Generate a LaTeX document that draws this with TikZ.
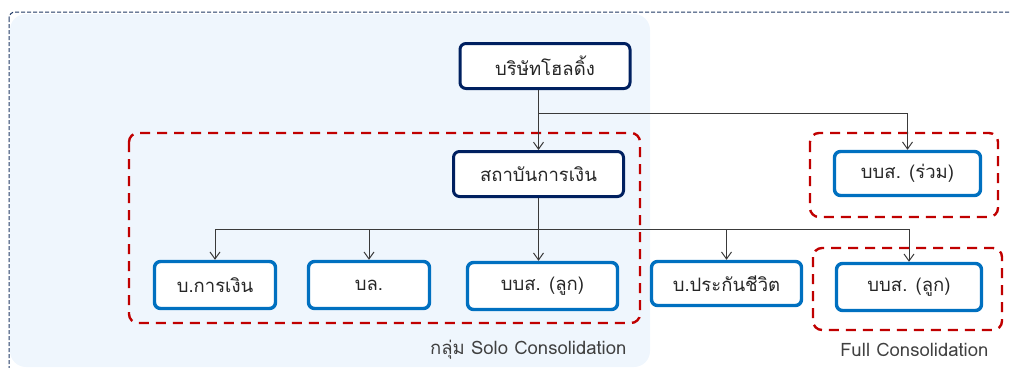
\documentclass[tikz,border=0pt]{standalone}
\usepackage{fontspec}
\newfontfamily\thaifont[Script=Thai]{Loma}
\usetikzlibrary{arrows.meta}

\definecolor{navy}{HTML}{002060}
\definecolor{midblue}{HTML}{0070C0}
\definecolor{darkred}{HTML}{C00000}
\definecolor{paleblue}{HTML}{EFF6FD}
\definecolor{framenavy}{HTML}{1F3864}
\definecolor{linegray}{HTML}{3A3A3A}

\tikzset{
  company/.style = {rounded corners=6pt, fill=white, font=\thaifont\fontsize{18.5}{20}\selectfont,
                    text=black!85, inner sep=0pt},
  topbox/.style  = {company, draw=navy, line width=3pt},
  subbox/.style  = {company, draw=midblue, line width=3.4pt},
  group/.style   = {draw=darkred, line width=2.4pt, dash pattern=on 10pt off 7pt, rounded corners=9pt},
  link/.style    = {draw=linegray, line width=1pt, -{Straight Barb[length=7pt, width=10pt, line width=1pt]}},
  note/.style    = {font=\thaifont\fontsize{18.5}{20}\selectfont, text=black!75, anchor=east}
}

\begin{document}
\begin{tikzpicture}[x=1pt, y=-1pt]
  \useasboundingbox (0,0) rectangle (1011,367);
  \clip (0,0) rectangle (1011,367);

  % frame and solo area
  \draw[framenavy, line width=1pt, dash pattern=on 4pt off 2pt, rounded corners=6pt]
    (9,12) rectangle (1040,400);
  \fill[paleblue, rounded corners=16pt] (10,14) rectangle (650,367);

  % red consolidation groups
  \draw[group] (129,133) rectangle (640,323);
  \draw[group] (810,133) rectangle (998,217);
  \draw[group] (813,248) rectangle (1002,330);

  % companies
  \node[topbox, minimum width=170pt, minimum height=45pt] (hold) at (545,66) {บริษัทโฮลดิ้ง};
  \node[topbox, minimum width=170pt, minimum height=45pt] (fin) at (538.5,174) {สถาบันการเงิน};
  \node[subbox, minimum width=146pt, minimum height=44pt] (joint) at (907.5,173.5) {บบส. (ร่วม)};

  \node[subbox, minimum width=121pt, minimum height=47pt] (money) at (215,285) {บ.การเงิน};
  \node[subbox, minimum width=121pt, minimum height=47pt] (sec) at (369,285) {บล.};
  \node[subbox, minimum width=150pt, minimum height=47pt] (amc1) at (542.5,286) {บบส. (ลูก)};
  \node[subbox, minimum width=150pt, minimum height=44pt] (life) at (726.5,283.5) {บ.ประกันชีวิต};
  \node[subbox, minimum width=145pt, minimum height=47pt] (amc2) at (909,287) {บบส. (ลูก)};

  % branch points
  \coordinate (br1) at (fin.north |- 0,113);
  \coordinate (br2) at (fin.south |- 0,229);

  \draw[link] (hold.south -| fin.north) -- (fin.north);
  \draw[link] (br1) -| (joint.north);

  \draw[linegray, line width=1pt] (fin.south) -- (br2);
  \draw[link] (br2) -| (money.north);
  \draw[link] (br2) -| (sec.north);
  \draw[link] (br2) -- (fin.south |- amc1.north);
  \draw[link] (br2) -| (life.north);
  \draw[link] (br2) -| (amc2.north);

  % captions
  \node[note] (solo) at (630,350) {กลุ่ม Solo Consolidation};
  \node[note] (full) at (992,350) {Full Consolidation};
\end{tikzpicture}
\end{document}
